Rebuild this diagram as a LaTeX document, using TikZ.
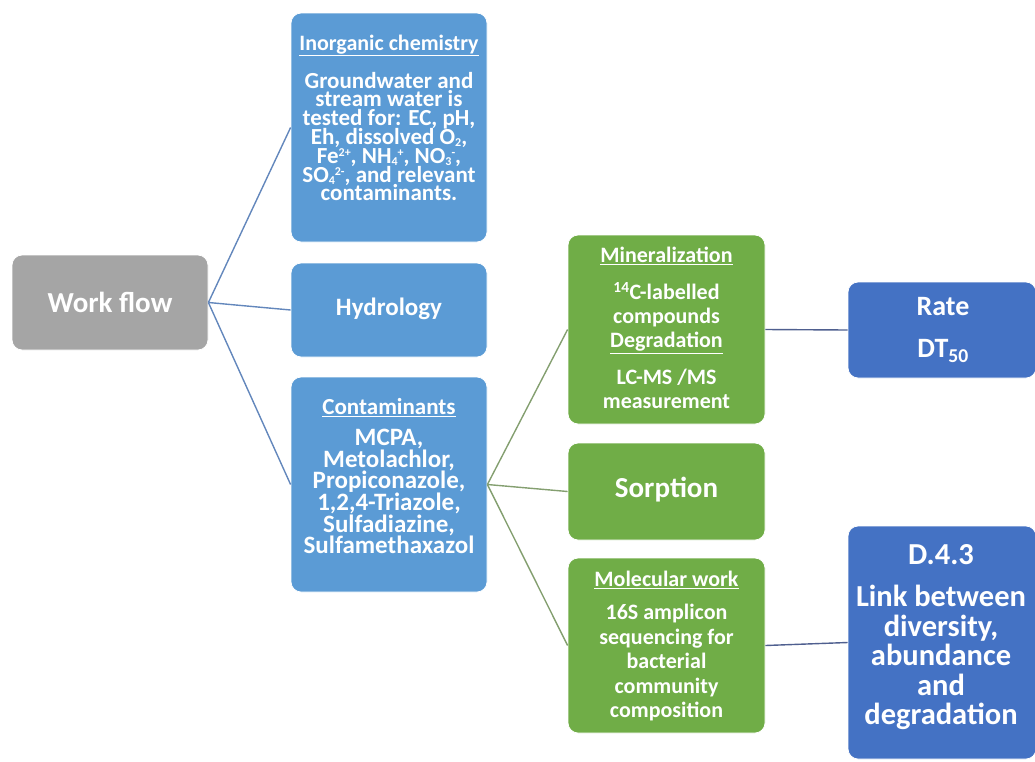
\documentclass[tikz,border=0pt]{standalone}
\usepackage{fontspec}
\setmainfont{Carlito}
\definecolor{cgray}{HTML}{A5A5A5}
\definecolor{cblue}{HTML}{5B9BD5}
\definecolor{cgreen}{HTML}{70AD47}
\definecolor{cdblue}{HTML}{4472C4}
\definecolor{lblue}{HTML}{6387BC}
\definecolor{lgreen}{HTML}{849F70}
\definecolor{ldark}{HTML}{4F5F8F}
\newcommand\hdr[1]{\underline{#1}}
\newcommand\fixskip{\lineskiplimit=-100pt\lineskip=0pt}
\newcommand\sps[1]{\raisebox{0.3em}{\fontsize{12}{12}\selectfont #1}}
\newcommand\sbs[1]{\raisebox{-0.1em}{\fontsize{12}{12}\selectfont #1}}
\tikzset{
  box/.style={draw=white, line width=0.8pt, rounded corners=10pt, inner sep=0pt},
  txt/.style={text=white, align=center, inner sep=0pt, font=\bfseries},
  conn/.style={line width=1.4pt},
}
\begin{document}
\begin{tikzpicture}[x=1pt,y=-1pt]
\useasboundingbox (0,0) rectangle (1035,761);
% boxes
\node[box, fill=cgray, minimum width=196pt, minimum height=95pt] (wf) at (110,302.5) {};
\node[box, fill=cblue, minimum width=196pt, minimum height=229pt] (inorg) at (389,127.5) {};
\node[box, fill=cblue, minimum width=196pt, minimum height=94pt] (hydro) at (389,310) {};
\node[box, fill=cblue, minimum width=196pt, minimum height=215pt] (contam) at (389,484.5) {};
\node[box, fill=cgreen, minimum width=197pt, minimum height=189pt] (miner) at (666.5,329.5) {};
\node[box, fill=cgreen, minimum width=197pt, minimum height=97pt] (sorp) at (666.5,491.5) {};
\node[box, fill=cgreen, minimum width=197pt, minimum height=175pt] (molec) at (666.5,645.5) {};
\node[box, fill=cdblue, minimum width=188pt, minimum height=96pt] (rate) at (942,330) {};
\node[box, fill=cdblue, minimum width=188pt, minimum height=233pt] (d43) at (942,642.5) {};
% connectors
\draw[conn, lblue] (wf.east) -- (inorg.west);
\draw[conn, lblue] (wf.east) -- (hydro.west);
\draw[conn, lblue] (wf.east) -- (contam.west);
\draw[conn, lgreen] (contam.east) -- (miner.west);
\draw[conn, lgreen] (contam.east) -- (sorp.west);
\draw[conn, lgreen] (contam.east) -- (molec.west);
\draw[conn, ldark] (miner.east) -- (rate.west);
\draw[conn, ldark] (molec.east) -- (d43.west);
% texts
\node[txt, font=\fontsize{29}{32}\selectfont\bfseries] (twf) at (110,302) {Work flow};
\node[txt, font=\fontsize{23}{18.8}\selectfont\bfseries\fixskip] (tinorg) at (389,118) {{\fontsize{22}{18.8}\selectfont\hdr{Inorganic chemistry}}\\[19pt]
Groundwater and\\ stream water is\\ tested for: EC, pH,\\ Eh, dissolved O\sbs{2},\\
Fe\sps{2+}, NH\sbs{4}\sps{+}, NO\sbs{3}\sps{-},\\
SO\sbs{4}\sps{2-}, and relevant\\ contaminants.};
\node[txt, font=\fontsize{25}{26}\selectfont\bfseries] (thydro) at (389,309) {Hydrology};
\node[txt, font=\fontsize{25}{21.6}\selectfont\bfseries\fixskip] (tcontam) at (389,476) {{\fontsize{23}{21.6}\selectfont\hdr{Contaminants}}\\[10pt]
MCPA,\\ Metolachlor,\\ Propiconazole,\\ 1,2,4-Triazole,\\ Sulfadiazine,\\ Sulfamethaxazol};
\node[txt, font=\fontsize{22}{24}\selectfont\bfseries\fixskip] (tminer) at (666.5,328) {\hdr{Mineralization}\\[13pt]
\textsuperscript{14}C-labelled\\ compounds\\[0pt] \hdr{Degradation}\\[13pt] LC-MS /MS\\ measurement};
\node[txt, font=\fontsize{29}{32}\selectfont\bfseries] (tsorp) at (666.5,490) {Sorption};
\node[txt, font=\fontsize{22}{24.5}\selectfont\bfseries\fixskip] (tmolec) at (666.5,646) {\hdr{Molecular work}\\[9pt]
16S amplicon\\ sequencing for\\ bacterial\\ community\\ composition};
\node[txt, font=\fontsize{28}{42}\selectfont\bfseries] (trate) at (943,330) {Rate\\ DT\textsubscript{50}};
\node[txt, font=\fontsize{30.5}{29.5}\selectfont\bfseries\fixskip] (td43) at (941,637) {D.4.3\\[13pt] Link between\\ diversity,\\ abundance\\ and\\ degradation};
\end{tikzpicture}
\end{document}
